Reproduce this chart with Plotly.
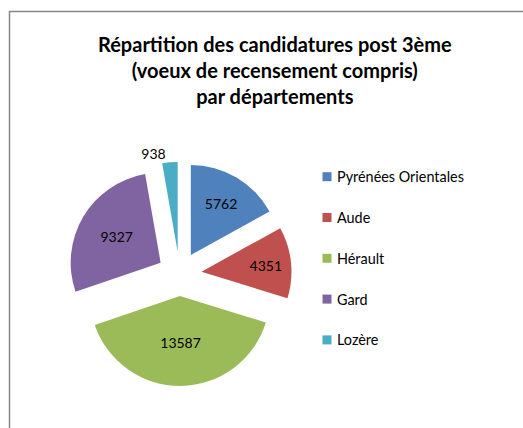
import plotly.graph_objects as go

# ---- data ----
departements = ["Pyrénées Orientales", "Aude", "Hérault", "Gard", "Lozère"]
candidatures = [5762, 4351, 13587, 9327, 938]
couleurs = ["#4F81BD", "#C0504D", "#9BBB59", "#8064A2", "#4BACC6"]
titre_lignes = ["Répartition des candidatures post 3ème",
                "(voeux de recensement compris)",
                "par départements"]

W, H = 523, 428
FONT = "Lato"

# pie geometry (pixels)
cx, cy, half = 179.6, 273.9, 112.0
pull = 0.245

fig = go.Figure()
fig.add_trace(go.Pie(
    labels=departements,
    values=candidatures,
    marker=dict(colors=couleurs, line=dict(width=0)),
    sort=False,
    direction="clockwise",
    rotation=0,
    pull=[pull] * len(candidatures),
    texttemplate="%{value:.0f}",
    textposition=["inside"] * (len(candidatures) - 1) + ["outside"],
    insidetextorientation="horizontal",
    textfont=dict(family=FONT, size=14, color="black"),
    outsidetextfont=dict(family=FONT, size=14, color="black"),
    domain=dict(x=[(cx - half) / W, (cx + half) / W],
                y=[1 - (cy + half) / H, 1 - (cy - half) / H]),
    showlegend=False,
    automargin=False,
))

shapes = [dict(type="rect", xref="paper", yref="paper",
               x0=9.5 / W, x1=1.2, y0=-0.2, y1=1 - 11.5 / H,
               line=dict(color="#868686", width=1.5), layer="below")]
annotations = [dict(text="<br>".join(titre_lignes), x=275 / W, y=1 - 70 / H,
                    xref="paper", yref="paper", xanchor="center", yanchor="middle",
                    showarrow=False, align="center",
                    font=dict(family=FONT, size=20, color="black", weight="bold"))]

# legend built from categories / colours
leg_x, leg_y0, leg_dy, sq = 322.5, 176.7, 40.8, 9
for i, (name, col) in enumerate(zip(departements, couleurs)):
    yc = leg_y0 + i * leg_dy
    shapes.append(dict(type="rect", xref="paper", yref="paper",
                       x0=leg_x / W, x1=(leg_x + sq) / W,
                       y0=1 - (yc + sq / 2) / H, y1=1 - (yc - sq / 2) / H,
                       fillcolor=col, line=dict(width=0)))
    annotations.append(dict(text=name, x=(leg_x + sq + 3) / W, y=1 - yc / H,
                            xref="paper", yref="paper", xanchor="left", yanchor="middle",
                            showarrow=False,
                            font=dict(family=FONT, size=14.4, color="black")))

fig.update_layout(
    width=W, height=H,
    margin=dict(l=0, r=0, t=0, b=0),
    paper_bgcolor="white", plot_bgcolor="white",
    shapes=shapes, annotations=annotations,
    showlegend=False,
)
fig.write_html("out.html", config={"displayModeBar": False},
               post_script="document.body.style.margin='0';")
